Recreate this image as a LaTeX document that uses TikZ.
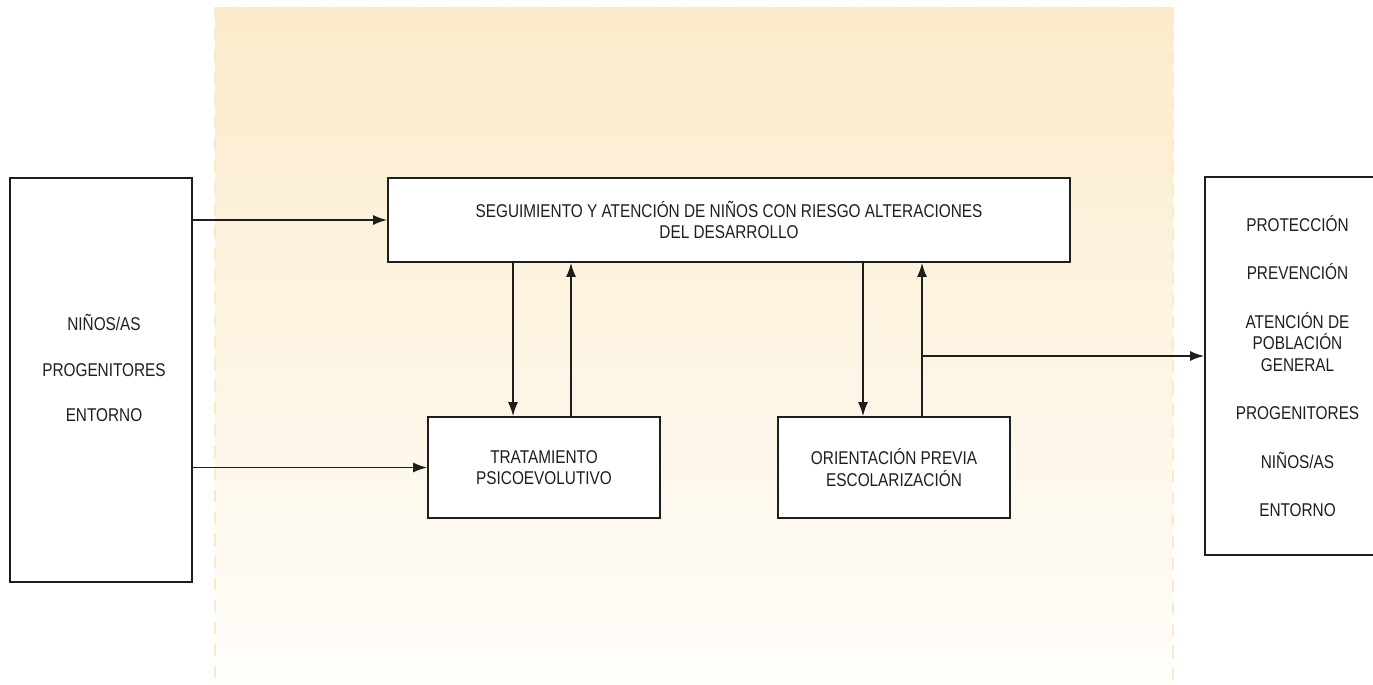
\documentclass[tikz,border=0pt]{standalone}
\usepackage{fontspec}
\setmainfont{Liberation Sans}[FakeStretch=0.83]
\usepackage{tikz}
\usetikzlibrary{arrows.meta}

\definecolor{bandtop}{RGB}{251,235,203}
\definecolor{bandbot}{RGB}{255,254,252}
\definecolor{banddash}{RGB}{250,234,200}
\definecolor{ink}{RGB}{30,30,30}

\begin{document}
\begin{tikzpicture}[x=1pt,y=1pt,
  caja/.style={draw=ink, line width=1.7pt, fill=white, align=center, inner sep=0pt,
    font=\fontsize{18.5}{21.5}\selectfont, text=ink},
  flecha/.style={draw=ink, line width=1.6pt, -{Latex[length=14pt,width=10pt]}}]
\clip (0,0) rectangle (1373,-685);
% franja de fondo
\shade[top color=bandtop, bottom color=bandbot] (215,-8) rectangle (1173,-700);
\draw[banddash, line width=2pt, dash pattern=on 12pt off 10pt] (215,-700) -- (215,-8) -- (1173,-8) -- (1173,-700);
% cajas
\node[caja, minimum width=182, minimum height=404] (ninos) at (101,-380) {};
\node[font=\fontsize{18.5}{21.5}\selectfont, text=ink, align=center] (ninostxt) at (104,-368)
  {NIÑOS/AS\\[24pt]PROGENITORES\\[24pt]ENTORNO};
\node[caja, minimum width=682, minimum height=84] (seg) at (729,-220)
  {SEGUIMIENTO Y ATENCIÓN DE NIÑOS CON RIESGO ALTERACIONES\\DEL DESARROLLO};
\node[caja, minimum width=232, minimum height=101] (trat) at (544,-467.5)
  {TRATAMIENTO\\PSICOEVOLUTIVO};
\node[caja, minimum width=232, minimum height=101] (orient) at (894,-467.5)
  {ORIENTACIÓN PREVIA\\ESCOLARIZACIÓN};
\node[caja, minimum width=185, minimum height=378] (salida) at (1297.5,-366)
  {PROTECCIÓN\\[27pt]PREVENCIÓN\\[27pt]ATENCIÓN DE\\POBLACIÓN\\GENERAL\\[27pt]PROGENITORES\\[27pt]NIÑOS/AS\\[27pt]ENTORNO};
% conexiones
\draw[flecha] (ninos.east |- seg.west) -- (seg.west);
\draw[flecha] (ninos.east |- trat.west) -- (trat.west);
\draw[flecha] ([xshift=-31]trat.north |- seg.south) -- ([xshift=-31]trat.north);
\draw[flecha] ([xshift=27]trat.north) -- ([xshift=27]trat.north |- seg.south);
\draw[flecha] ([xshift=-31]orient.north |- seg.south) -- ([xshift=-31]orient.north);
\draw[flecha] ([xshift=28]orient.north) -- ([xshift=28]orient.north |- seg.south);
\coordinate (rama) at ([xshift=28]orient.north |- 0,-356);
\draw[flecha] (rama) -- (rama -| salida.west);
\end{tikzpicture}
\end{document}
